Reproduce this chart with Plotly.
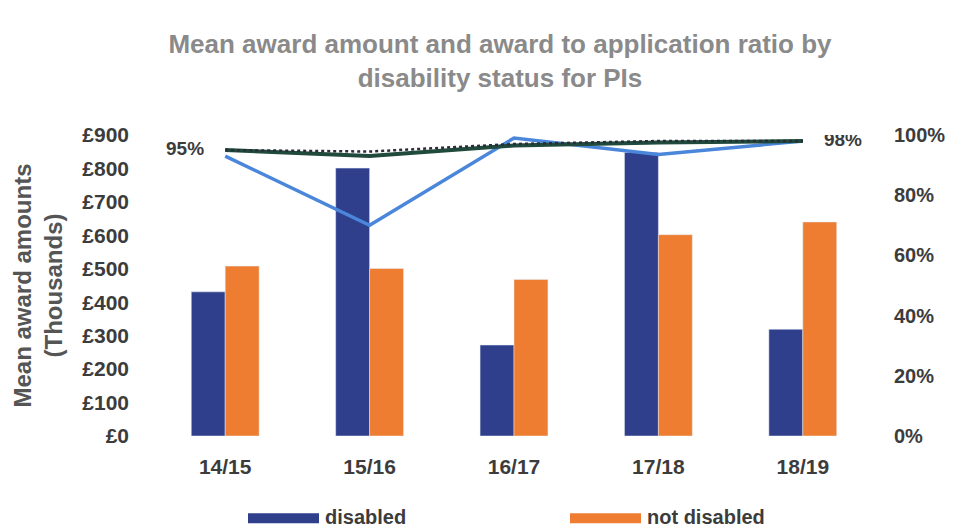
import plotly.graph_objects as go

# ---- data ----
years = ["14/15", "15/16", "16/17", "17/18", "18/19"]
disabled_award = [431, 801, 272, 848, 319]          # £ thousands
not_disabled_award = [508, 501, 468, 602, 640]       # £ thousands
ratio_solid = [0.95, 0.93, 0.965, 0.975, 0.98]       # award to application ratio (labelled)
ratio_dotted = [0.95, 0.945, 0.97, 0.98, 0.98]
ratio_blue = [0.93, 0.70, 0.99, 0.935, 0.98]
left_ticks = [0, 100, 200, 300, 400, 500, 600, 700, 800, 900]
right_ticks = [0, 0.2, 0.4, 0.6, 0.8, 1.0]

NAVY = "#2f3f8c"
ORANGE = "#ee7d32"
GREEN = "#1f4a3c"
BLUE = "#4a86da"
DOT = "#2b2b3a"
TXT = "#3c3c3c"
FONT = "Liberation Sans, Arial, sans-serif"
GAP = "\u00a0" * 4

L, R = 145, 88
PW = 955 - L - R

fig = go.Figure()
fig.add_trace(go.Bar(x=years, y=disabled_award, name="disabled", marker_color=NAVY,
                     showlegend=False))
fig.add_trace(go.Bar(x=years, y=not_disabled_award, name="not disabled", marker_color=ORANGE,
                     showlegend=False))

fig.add_trace(go.Scatter(x=years, y=ratio_blue, yaxis="y2", mode="lines",
                         line=dict(color=BLUE, width=3.5), showlegend=False))
labels = [""] * len(ratio_solid)
labels[0] = f"{ratio_solid[0]:.0%}{GAP}"
labels[-1] = f"{GAP}{ratio_solid[-1]:.0%}"
fig.add_trace(go.Scatter(x=years, y=ratio_solid, yaxis="y2", mode="lines+text",
                         line=dict(color=GREEN, width=4), showlegend=False,
                         text=labels,
                         textposition=["middle left", "top center", "top center", "top center", "middle right"],
                         textfont=dict(family=FONT, size=19, color=TXT, weight="bold")))
fig.add_trace(go.Scatter(x=years, y=ratio_dotted, yaxis="y2", mode="lines",
                         line=dict(color=DOT, width=2.5, dash="dot"), showlegend=False))

# legend drawn as swatches + labels
legend_items = [("disabled", NAVY, 240), ("not disabled", ORANGE, 562)]
for label, col, px in legend_items:
    fig.add_shape(type="rect", xref="paper", yref="paper",
                  x0=(px - L) / PW, x1=(px + 71 - L) / PW,
                  y0=-(506 - 428.5) / 301.5, y1=-(516 - 428.5) / 301.5,
                  fillcolor=col, line_width=0)
    fig.add_annotation(text=label, xref="paper", yref="paper",
                       x=(px + 75 - L) / PW, y=-(510 - 428.5) / 301.5,
                       xanchor="left", yanchor="middle", showarrow=False,
                       font=dict(family=FONT, size=20, color=TXT, weight="bold"))

fig.update_layout(
    width=955, height=531,
    margin=dict(l=L, r=R, t=127, b=103),
    paper_bgcolor="white", plot_bgcolor="white",
    barmode="group", bargap=0.53, bargroupgap=0,
    title=dict(text="Mean award amount and award to application ratio by<br>disability status for PIs",
               x=492 / 955, xref="container", xanchor="center",
               y=1 - 45 / 531, yref="container", yanchor="middle",
               font=dict(family=FONT, size=26, color="#8a8a8a", weight="bold")),
    font=dict(family=FONT, color=TXT),
    xaxis=dict(showgrid=False, showline=False, zeroline=False, ticks="",
               ticklabelstandoff=16,
               tickfont=dict(family=FONT, size=21, color=TXT, weight="bold")),
    yaxis=dict(range=[0, 900], tickvals=left_ticks,
               ticktext=[f"£{v}" for v in left_ticks],
               showgrid=False, showline=False, zeroline=False, ticks="",
               ticklabelstandoff=23,
               tickfont=dict(family=FONT, size=21, color=TXT, weight="bold"),
               title=dict(text="Mean award amounts<br>(Thousands)", standoff=12,
                          font=dict(family=FONT, size=24, color="#555555", weight="bold"))),
    yaxis2=dict(range=[0, 1.0], tickvals=right_ticks, tickformat=".0%",
                overlaying="y", side="right",
                showgrid=False, showline=False, zeroline=False, ticks="",
                ticklabelstandoff=18,
                tickfont=dict(family=FONT, size=20, color=TXT, weight="bold")),
    showlegend=False,
)

fig.write_html("out.html")
